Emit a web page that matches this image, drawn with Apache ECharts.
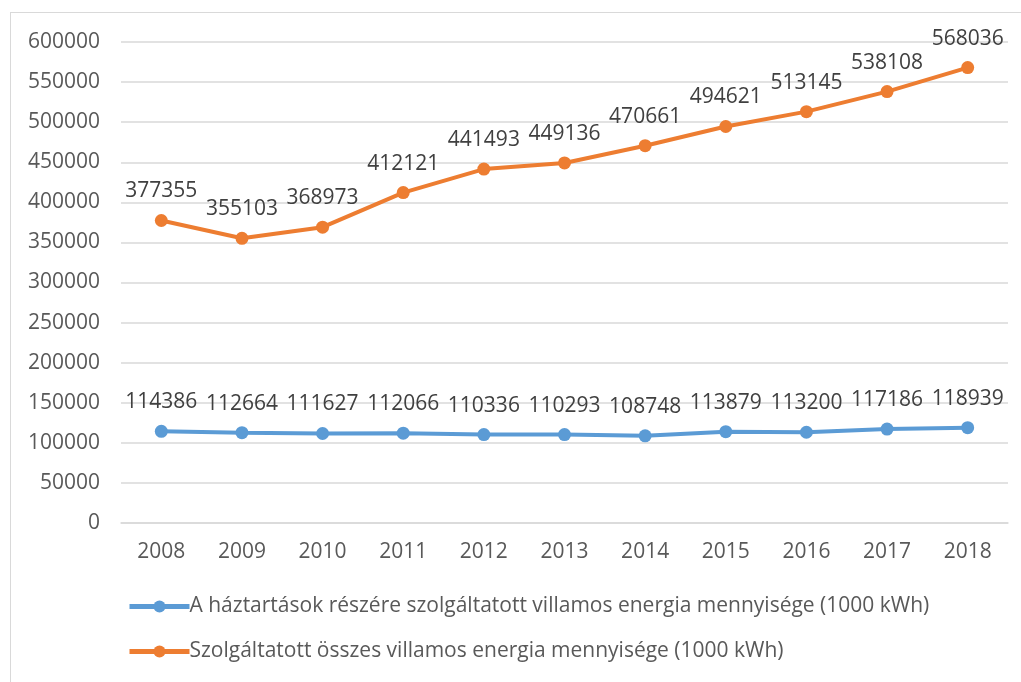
<!DOCTYPE html>
<html>
<head>
<meta charset="utf-8">
<script src="https://cdn.jsdelivr.net/npm/echarts@6/dist/echarts.min.js"></script>
<style>
  html, body { margin: 0; padding: 0; background: #fff; }
  #frame { position: absolute; left: 10px; top: 12px; width: 1020px; height: 680px; border: 1px solid #d9d9d9; box-sizing: border-box; }
  #chart { position: absolute; left: 0; top: 0; width: 1021px; height: 682px; }
</style>
</head>
<body>
<div id="frame"></div>
<div id="chart"></div>
<script>
// évek
const years = ['2008', '2009', '2010', '2011', '2012', '2013', '2014', '2015', '2016', '2017', '2018']
// háztartások
const households = [114386, 112664, 111627, 112066, 110336, 110293, 108748, 113879, 113200, 117186, 118939]
// összes
const total = [377355, 355103, 368973, 412121, 441493, 449136, 470661, 494621, 513145, 538108, 568036]
const seriesNames = [
  'A háztartások részére szolgáltatott villamos energia mennyisége (1000 kWh)',
  'Szolgáltatott összes villamos energia mennyisége (1000 kWh)',
]

const myChart = echarts.init(document.getElementById('chart'))
const font = '"Open Sans", "Noto Sans", sans-serif'
const fs = 21

const makeSeries = (name, data, color) => ({
  name,
  type: 'line',
  data,
  symbol: 'circle',
  symbolSize: 13,
  lineStyle: { width: 4, color },
  itemStyle: { color },
  label: {
    show: true,
    position: 'top',
    distance: 12,
    color: '#404040',
    fontSize: fs,
    fontFamily: font,
  },
  z: 3,
})

const option = {
  animation: false,
  textStyle: { fontFamily: font },
  grid: {
    left: 121,
    right: 13,
    top: 42,
    bottom: 159,
    containLabel: false,
  },
  legend: {
    orient: 'vertical',
    left: 122,
    top: 591,
    itemWidth: 60,
    itemHeight: 15,
    itemGap: 24,
    lineStyle: { width: 5 },
    textStyle: { color: '#595959', fontSize: fs, fontFamily: font, padding: [0, 0, 0, -5] },
    data: seriesNames,
  },
  xAxis: {
    type: 'category',
    data: years,
    boundaryGap: true,
    axisLine: { lineStyle: { color: '#d9d9d9', width: 1.5 } },
    axisTick: { show: false },
    axisLabel: { color: '#595959', fontSize: fs, margin: 19, fontFamily: font },
  },
  yAxis: {
    type: 'value',
    min: 0,
    max: 600000,
    interval: 50000,
    axisLine: { show: false },
    axisTick: { show: false },
    axisLabel: { color: '#595959', fontSize: fs, margin: 21, fontFamily: font, formatter: (v) => String(v) },
    splitLine: { lineStyle: { color: '#d9d9d9', width: 1.5 } },
  },
  series: [
    makeSeries(seriesNames[0], households, '#5B9BD5'),
    makeSeries(seriesNames[1], total, '#ED7D31'),
  ],
}
myChart.setOption(option)
</script>
</body>
</html>
